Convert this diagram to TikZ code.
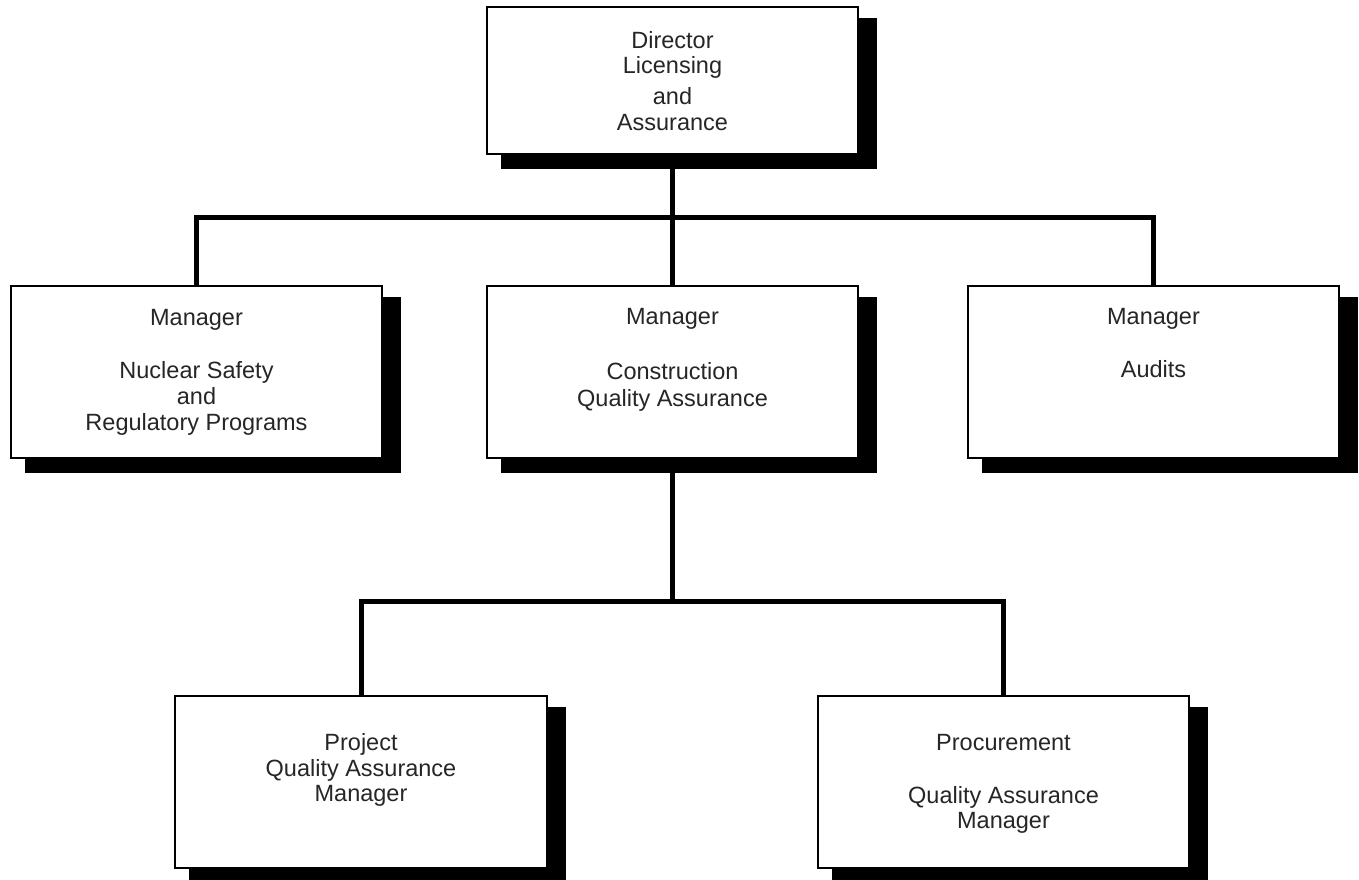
\documentclass[tikz,border=0pt]{standalone}
\usepackage{fontspec}
\setmainfont{Liberation Sans}
\usetikzlibrary{calc,backgrounds}
\begin{document}
\begin{tikzpicture}[x=1pt,y=-1pt,
  box/.style={draw=black, fill=white, line width=2pt, rectangle, inner sep=0pt},
  midbox/.style={box, minimum width=371pt, minimum height=172pt},
  txt/.style={align=center, inner sep=0pt, anchor=north, text=black!85, font=\fontsize{23.5}{26}\selectfont},
  link/.style={line width=5pt},
  shade/.style={fill=black}]
\useasboundingbox (0,0) rectangle (1359,880);
% boxes
\node[box, minimum width=371pt, minimum height=147pt] (dir) at (672.5,80.5) {};
\node[midbox] (nsr) at (196.5,372) {};
\node[midbox] (cqa) at (672.5,371.5) {};
\node[midbox] (aud) at (1153.5,371.5) {};
\node[box, minimum width=372pt, minimum height=172pt] (pqa) at (361,782) {};
\node[midbox] (prq) at (1003.5,782) {};
% shadows
\begin{scope}[on background layer]
\foreach \n in {dir,nsr,cqa,aud,pqa,prq}
  \fill[shade] ($(\n.north west)+(15,12)$) rectangle ($(\n.south east)+(18,14)$);
\end{scope}
% texts
\node[txt] (tdir) at ($(dir.north)+(0,25)$) {Director\\[-1pt]Licensing\\[5pt]and\\Assurance};
\node[txt] (tnsr) at ($(nsr.north)+(0,24)$) {Manager\\[27pt]Nuclear Safety\\and\\Regulatory Programs};
\node[txt] (tcqa) at ($(cqa.north)+(0,24)$) {Manager\\[29pt]Construction\\[1pt]Quality Assurance};
\node[txt] (taud) at ($(aud.north)+(0,24)$) {Manager\\[27pt]Audits};
\node[txt] (tpqa) at ($(pqa.north)+(0,38)$) {Project\\Quality Assurance\\[-1pt]Manager};
\node[txt] (tprq) at ($(prq.north)+(0,39)$) {Procurement\\[27pt]Quality Assurance\\[-1pt]Manager};
% connectors
\coordinate (bus1) at (672.5,217);
\coordinate (bus2) at (672.5,601);
\draw[link] (dir.south) -- (bus1) -- (cqa.north);
\draw[link] (nsr.north) -- (nsr.north |- bus1) -- (aud.north |- bus1) -- (aud.north);
\draw[link] (cqa.south) -- (bus2);
\draw[link] (pqa.north) -- (pqa.north |- bus2) -- (prq.north |- bus2) -- (prq.north);
\end{tikzpicture}
\end{document}
